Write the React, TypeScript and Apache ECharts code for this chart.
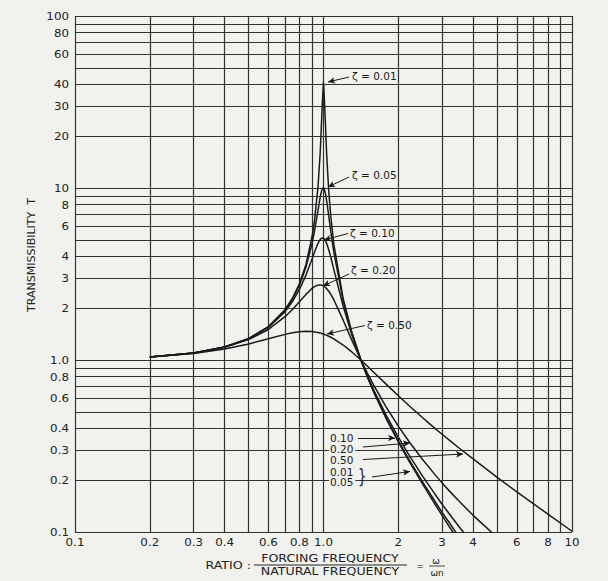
import React, { useEffect, useRef } from 'react';
import * as echarts from 'echarts';

// Frequency ratio (forcing / natural)
const ratio = [0.2, 0.3, 0.4, 0.5, 0.6, 0.7, 0.75, 0.8, 0.85, 0.9, 0.92, 0.95, 0.97, 0.98, 0.99, 1.0, 1.01, 1.02, 1.03, 1.05, 1.07, 1.1, 1.2, 1.3, 1.414, 1.5, 1.6, 1.8, 2.0, 2.2, 2.5, 2.8, 3.0, 3.2, 3.5, 4.0, 5.0, 6.0, 8.0, 10.0];

// Transmissibility
const zeta001 = [1.042, 1.099, 1.19, 1.333, 1.562, 1.96, 2.285, 2.775, 3.597, 5.24, 6.465, 10.07, 16.08, 22.6, 32.0, 41.0, 31.0, 22.1, 15.56, 9.56, 6.83, 4.737, 2.27, 1.449, 1.0, 0.8, 0.641, 0.447, 0.334, 0.261, 0.191, 0.146, 0.125, 0.108, 0.089, 0.067, null, null, null, null];
const zeta005 = [1.042, 1.099, 1.19, 1.332, 1.558, 1.947, 2.259, 2.72, 3.458, 4.776, 5.609, 7.379, 8.845, 9.506, 9.951, 10.05, 9.76, 9.16, 8.401, 6.853, 5.583, 4.244, 2.208, 1.436, 1.0, 0.803, 0.646, 0.452, 0.339, 0.266, 0.196, 0.152, 0.13, 0.114, 0.094, 0.072, null, null, null, null];
const zeta010 = [1.042, 1.098, 1.189, 1.328, 1.547, 1.909, 2.186, 2.571, 3.117, 3.882, 4.242, 4.766, 5.023, 5.096, 5.123, 5.099, 5.026, 4.908, 4.753, 4.373, 3.957, 3.367, 2.052, 1.401, 1.0, 0.812, 0.659, 0.469, 0.356, 0.283, 0.212, 0.167, 0.145, 0.128, 0.108, 0.085, null, null, null, null];
const zeta020 = [1.041, 1.097, 1.184, 1.314, 1.505, 1.785, 1.968, 2.18, 2.407, 2.611, 2.672, 2.727, 2.733, 2.726, 2.713, 2.693, 2.666, 2.634, 2.597, 2.509, 2.407, 2.241, 1.704, 1.305, 1.0, 0.841, 0.704, 0.524, 0.413, 0.338, 0.265, 0.217, 0.193, 0.174, 0.152, 0.125, 0.093, null, null, null];
const zeta050 = [1.04, 1.09, 1.158, 1.24, 1.329, 1.409, 1.44, 1.46, 1.468, 1.463, 1.457, 1.444, 1.434, 1.428, 1.421, 1.414, 1.407, 1.399, 1.391, 1.374, 1.356, 1.328, 1.222, 1.114, 1.0, 0.923, 0.844, 0.717, 0.62, 0.546, 0.463, 0.402, 0.37, 0.343, 0.309, 0.266, 0.208, 0.171, 0.127, 0.101];

// Axis ticks & grid
const xTickValues = [0.1, 0.2, 0.3, 0.4, 0.6, 0.8, 1, 2, 3, 4, 6, 8, 10];
const xTickLabels = ['0.1', '0.2', '0.3', '0.4', '0.6', '0.8', '1.0', '2', '3', '4', '6', '8', '10'];
const yTickValues = [0.1, 0.2, 0.3, 0.4, 0.6, 0.8, 1, 2, 3, 4, 6, 8, 10, 20, 30, 40, 60, 80, 100];
const yTickLabels = ['0.1', '0.2', '0.3', '0.4', '0.6', '0.8', '1.0', '2', '3', '4', '6', '8', '10', '20', '30', '40', '60', '80', '100'];
const xGridValues = [0.1, 0.2, 0.3, 0.4, 0.5, 0.6, 0.7, 0.8, 0.9, 1, 2, 3, 4, 5, 6, 7, 8, 9, 10];
const yGridValues = [0.1, 0.2, 0.3, 0.4, 0.5, 0.6, 0.7, 0.8, 0.9, 1, 2, 3, 4, 5, 6, 7, 8, 9, 10, 20, 30, 40, 50, 60, 70, 80, 90, 100];

const curveNames = ['ζ = 0.01', 'ζ = 0.05', 'ζ = 0.10', 'ζ = 0.20', 'ζ = 0.50'];
const curveValues = [zeta001, zeta005, zeta010, zeta020, zeta050];

const PAPER = '#f1f1ee';
const INK = '#1a1a1a';
const FONT = '"DejaVu Sans", Verdana, sans-serif';

export default function App() {
  const ref = useRef<HTMLDivElement>(null);

  useEffect(() => {
    document.body.style.margin = '0';
    document.body.style.overflow = 'hidden';
    const chart = echarts.init(ref.current as HTMLDivElement, null, { renderer: 'svg' });

    const pairs = (vals: (number | null)[]) =>
      ratio.map((r, i) => [r, vals[i]]).filter((p) => p[1] != null);

    const arrow = (x1: number, y1: number, x2: number, y2: number) => [
      { x: x1, y: y1 },
      { x: x2, y: y2 },
    ];

    const option: any = {
      animation: false,
      backgroundColor: PAPER,
      grid: { left: 75, right: 36, top: 16, bottom: 49, containLabel: false },
      xAxis: {
        type: 'log', logBase: 10, min: 0.1, max: 10,
        axisLine: { show: false }, axisTick: { show: false },
        axisLabel: { show: false }, splitLine: { show: false },
      },
      yAxis: {
        type: 'log', logBase: 10, min: 0.1, max: 100,
        axisLine: { show: false }, axisTick: { show: false },
        axisLabel: { show: false }, splitLine: { show: false },
      },
      series: [
        {
          name: 'grid',
          type: 'line',
          data: [],
          silent: true,
          markLine: {
            silent: true,
            symbol: ['none', 'none'],
            label: { show: false },
            lineStyle: { color: '#333333', width: 1.2, type: 'solid' },
            data: [
              ...xGridValues.map((v) => ({ xAxis: v })),
              ...yGridValues.map((v) => ({ yAxis: v })),
            ],
          },
        },
        ...curveValues.map((vals, i) => ({
          name: curveNames[i],
          type: 'line',
          data: pairs(vals),
          showSymbol: false,
          symbol: 'none',
          clip: true,
          lineStyle: { color: INK, width: 1.5 },
          z: 5,
        })),
        {
          name: 'annotations',
          type: 'line',
          data: [],
          silent: true,
          markLine: {
            silent: true,
            symbol: ['none', 'arrow'],
            symbolSize: [5, 7],
            label: { show: false },
            lineStyle: { color: INK, width: 1, type: 'solid' },
            data: [
              arrow(349, 77, 328, 82),
              arrow(349, 177, 328, 187),
              arrow(348, 233.5, 324, 240),
              arrow(349, 274, 323, 286),
              arrow(365, 325.5, 327, 334),
              arrow(358, 438, 395, 438),
              arrow(363, 447, 410, 443),
              arrow(363, 459.5, 463, 454),
              arrow(372, 477, 410, 471.5),
            ],
          },
          z: 6,
        },
      ],
    };

    chart.setOption(option);

    const graphics: any[] = [];
    xTickValues.forEach((v, i) => {
      const p = chart.convertToPixel({ gridIndex: 0 }, [v, 0.1]) as number[];
      graphics.push({
        type: 'text', x: p[0], y: p[1] + 10, scaleX: 1.08,
        style: { text: xTickLabels[i], fontSize: 11, fontFamily: FONT, fill: '#222', align: 'center', verticalAlign: 'middle', textAlign: 'center', textVerticalAlign: 'middle' },
      });
    });
    yTickValues.forEach((v, i) => {
      const p = chart.convertToPixel({ gridIndex: 0 }, [0.1, v]) as number[];
      graphics.push({
        type: 'text', x: p[0] - 6, y: p[1], scaleX: 1.08,
        style: { text: yTickLabels[i], fontSize: 11, fontFamily: FONT, fill: '#222', align: 'right', verticalAlign: 'middle', textAlign: 'right', textVerticalAlign: 'middle' },
      });
    });

    const label = (text: string, x: number, y: number, extra: any = {}) => ({
      type: 'text', x, y, z: 10,
      style: { text, fontSize: 10.5, fontFamily: FONT, fill: INK, align: 'left', verticalAlign: 'middle', textAlign: 'left', textVerticalAlign: 'middle', ...extra },
    });

    // curve labels near peaks
    graphics.push(label(curveNames[0], 352, 76));
    graphics.push(label(curveNames[1], 352, 175));
    graphics.push(label(curveNames[2], 350, 233));
    graphics.push(label(curveNames[3], 351, 269.5));
    graphics.push(label(curveNames[4], 367, 325));

    // labels on the high-frequency tails
    const bg = { backgroundColor: PAPER, padding: [0, 2, 0, 1] };
    graphics.push(label('0.10', 329, 438, bg));
    graphics.push(label('0.20', 329, 449, bg));
    graphics.push(label('0.50', 329, 460, bg));
    graphics.push(label('0.01', 329, 471.5, bg));
    graphics.push(label('0.05', 329, 482, bg));
    graphics.push({
      type: 'text', x: 358, y: 476.5, z: 10, scaleX: 0.7,
      style: { text: '}', fontSize: 19, fontFamily: FONT, fill: INK, align: 'left', verticalAlign: 'middle', textAlign: 'left', textVerticalAlign: 'middle' },
    });

    // y axis title
    graphics.push({
      type: 'text', x: 32, y: 255, rotation: Math.PI / 2, scaleX: 1.05,
      style: { text: 'TRANSMISSIBILITY  T', fontSize: 10.5, fontFamily: FONT, fill: '#222', align: 'center', verticalAlign: 'middle', textAlign: 'center', textVerticalAlign: 'middle' },
    });

    // x axis title with fractions
    const tStyle = (text: string, size: number, align = 'center') => ({
      text, fontSize: size, fontFamily: FONT, fill: '#222', align, verticalAlign: 'middle', textAlign: align, textVerticalAlign: 'middle',
    });
    graphics.push({ type: 'text', x: 251, y: 565, scaleX: 1.15, style: tStyle('RATIO :', 11, 'right') });
    graphics.push({ type: 'text', x: 330, y: 558.5, scaleX: 1.2, style: tStyle('FORCING FREQUENCY', 10.5) });
    graphics.push({ type: 'line', shape: { x1: 254, y1: 565, x2: 407, y2: 565 }, style: { stroke: '#222', lineWidth: 1 } });
    graphics.push({ type: 'text', x: 330, y: 571.5, scaleX: 1.2, style: tStyle('NATURAL FREQUENCY', 10.5) });
    graphics.push({ type: 'text', x: 420, y: 566, style: tStyle('=', 9) });
    graphics.push({ type: 'text', x: 436, y: 560.5, style: tStyle('ω', 9) });
    graphics.push({ type: 'line', shape: { x1: 429, y1: 566, x2: 445, y2: 566 }, style: { stroke: '#222', lineWidth: 0.8 } });
    graphics.push({ type: 'text', x: 437, y: 572.5, style: tStyle('ωn', 9) });

    chart.setOption({ graphic: { elements: graphics } });

    return () => {
      chart.dispose();
    };
  }, []);

  return <div ref={ref} style={{ width: 608, height: 581 }} />;
}
